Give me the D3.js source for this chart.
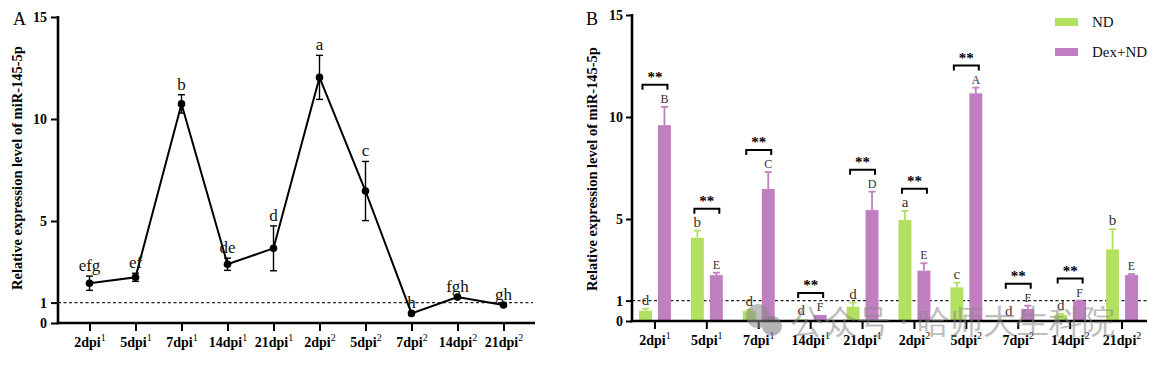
<!DOCTYPE html>
<html><head><meta charset="utf-8">
<script src="https://cdn.jsdelivr.net/npm/d3@7/dist/d3.min.js"></script>
<style>
body{margin:0;background:#fff;}
svg{display:block;}
text{font-family:"Liberation Serif","Times New Roman",serif;}
</style></head>
<body>
<svg id="c" width="1166" height="367"></svg>
<script>
// ---------- data ----------
const categories = ["2dpi|1","5dpi|1","7dpi|1","14dpi|1","21dpi|1","2dpi|2","5dpi|2","7dpi|2","14dpi|2","21dpi|2"];
const yTicks = [0,1,5,10,15];

// Panel A
const aValues = [1.95, 2.24, 10.74, 2.88, 3.66, 12.04, 6.47, 0.47, 1.27, 0.88];
const aErrors = [0.35, 0.2, 0.45, 0.3, 1.1, 1.08, 1.45, 0, 0, 0];
const aLetters = ["efg","ef","b","de","d","a","c","h","fgh","gh"];

// Panel B
const seriesNames = ["ND","Dex+ND"];
const ndValues = [0.5, 4.08, 0.49, 0.08, 0.7, 4.95, 1.65, 0.05, 0.3, 3.51];
const ndErrors = [0.1, 0.35, 0.06, 0.0, 0.2, 0.45, 0.23, 0.0, 0.05, 0.99];
const ndLetters = ["d","b","d","d","d","a","c","d","d","b"];
const dexValues = [9.6, 2.25, 6.47, 0.3, 5.44, 2.47, 11.16, 0.59, 0.98, 2.25];
const dexErrors = [0.9, 0.12, 0.83, 0.0, 0.9, 0.36, 0.28, 0.16, 0.02, 0.05];
const dexLetters = ["B","E","C","F","D","E","A","F","F","E"];
const significant = [true,true,true,true,true,true,true,true,true,false];

const GREEN = "#b4e061", PURPLE = "#c07fc1";
const svg = d3.select("#c");

function xLabel(sel){
  sel.each(function(d){
    const t = d3.select(this); t.text(null);
    const [base, sup] = d.split("|");
    t.append("tspan").text(base);
    t.append("tspan").attr("dy",-6).attr("font-size",10).attr("font-weight","normal").text(sup);
  });
}

function yAxisTitle(x, y){
  svg.append("text").attr("transform",`translate(${x},${y}) rotate(-90)`)
    .attr("text-anchor","middle").attr("font-weight","bold").attr("font-size",14.5)
    .text("Relative expression level of miR-145-5p");
}

// ================= Panel A =================
{
  const x0 = 58, x1 = 535;
  const x = d3.scalePoint().domain(categories).range([x0, x1]).padding(0.685);
  const y = d3.scaleLinear().domain([0,15]).range([323, 17]);
  const g = svg.append("g");

  const ya = g.append("g").attr("transform",`translate(${x0},0)`)
    .call(d3.axisLeft(y).tickValues(yTicks).tickSize(7).tickPadding(4));
  const xa = g.append("g").attr("transform",`translate(0,${y(0)})`)
    .call(d3.axisBottom(x).tickSize(8).tickPadding(6));
  [ya, xa].forEach(a=>{
    a.select(".domain").remove();
    a.selectAll("line").attr("stroke","#000").attr("stroke-width",2);
    a.selectAll("text").attr("font-family","Liberation Serif").attr("font-weight","bold").attr("font-size",14).attr("fill","#000");
  });
  xa.selectAll("text").call(xLabel);
  g.append("line").attr("x1",x0).attr("x2",x0).attr("y1",y(15)-1).attr("y2",y(0)+1.2).attr("stroke","#000").attr("stroke-width",2.6);
  g.append("line").attr("x1",x0-1.3).attr("x2",x1).attr("y1",y(0)).attr("y2",y(0)).attr("stroke","#000").attr("stroke-width",2.6);

  g.append("line").attr("x1",x0).attr("x2",533).attr("y1",y(1)).attr("y2",y(1))
    .attr("stroke","#222").attr("stroke-width",1.1).attr("stroke-dasharray","3,2.5");

  const line = d3.line().x((d,i)=>x(categories[i])).y(d=>y(d));
  g.append("path").datum(aValues).attr("d",line).attr("fill","none").attr("stroke","#000").attr("stroke-width",2);

  aValues.forEach((v,i)=>{
    const cx = x(categories[i]), e = aErrors[i];
    if(e>0){
      g.append("line").attr("x1",cx).attr("x2",cx).attr("y1",y(v+e)).attr("y2",y(v-e)).attr("stroke","#000").attr("stroke-width",1.4);
      [v+e, v-e].forEach(t=>g.append("line").attr("x1",cx-3.5).attr("x2",cx+3.5).attr("y1",y(t)).attr("y2",y(t)).attr("stroke","#000").attr("stroke-width",1.4));
    }
    g.append("circle").attr("cx",cx).attr("cy",y(v)).attr("r",3.8).attr("fill","#000");
    g.append("text").attr("x",cx).attr("y",y(v+e)-5).attr("text-anchor","middle")
      .attr("font-size",17).attr("fill","#111").text(aLetters[i]);
  });

  svg.append("text").attr("x",13).attr("y",25).attr("font-size",18).text("A");
  yAxisTitle(22, 168);
}

// ================= Panel B =================
{
  const x0 = 632, x1 = 1147;
  const xg = d3.scaleBand().domain(categories).range([629, 1148]).paddingInner(0.385).paddingOuter(0.1925);
  const xs = d3.scaleBand().domain(seriesNames).range([0, xg.bandwidth()]).paddingInner(0.316);
  const y = d3.scaleLinear().domain([0,15]).range([321, 15]);
  const g = svg.append("g");

  const ya = g.append("g").attr("transform",`translate(${x0},0)`)
    .call(d3.axisLeft(y).tickValues(yTicks).tickSize(6).tickPadding(3));
  const xa = g.append("g").attr("transform",`translate(0,${y(0)})`)
    .call(d3.axisBottom(xg).tickSize(8).tickPadding(6));
  [ya, xa].forEach(a=>{
    a.select(".domain").remove();
    a.selectAll("line").attr("stroke","#000").attr("stroke-width",2);
    a.selectAll("text").attr("font-family","Liberation Serif").attr("font-weight","bold").attr("font-size",14).attr("fill","#000");
  });
  xa.selectAll("text").call(xLabel);

  g.append("line").attr("x1",x0).attr("x2",x1).attr("y1",y(1)).attr("y2",y(1))
    .attr("stroke","#222").attr("stroke-width",1.1).attr("stroke-dasharray","3,2.5");

  const series = [
    {name:"ND", values:ndValues, errors:ndErrors, letters:ndLetters, color:GREEN, fs:15},
    {name:"Dex+ND", values:dexValues, errors:dexErrors, letters:dexLetters, color:PURPLE, fs:12}
  ];
  series.forEach(s=>{
    s.values.forEach((v,i)=>{
      const bx = xg(categories[i]) + xs(s.name), bw = xs.bandwidth(), cx = bx + bw/2;
      g.append("rect").attr("x",bx).attr("y",y(v)).attr("width",bw).attr("height",y(0)-y(v)).attr("fill",s.color);
      const e = s.errors[i];
      if(e>0){
        g.append("line").attr("x1",cx).attr("x2",cx).attr("y1",y(v)).attr("y2",y(v+e)).attr("stroke",s.color).attr("stroke-width",1.8);
        g.append("line").attr("x1",cx-3.5).attr("x2",cx+3.5).attr("y1",y(v+e)).attr("y2",y(v+e)).attr("stroke",s.color).attr("stroke-width",1.8);
      }
      g.append("text").attr("x",cx).attr("y",y(v+e)-4).attr("text-anchor","middle")
        .attr("font-size",s.fs).attr("fill","#333").text(s.letters[i]);
    });
  });

  significant.forEach((sig,i)=>{
    if(!sig) return;
    const top = Math.max(ndValues[i]+ndErrors[i], dexValues[i]+dexErrors[i]);
    const by = y(top) - 22;
    const xa1 = xg(categories[i]) + xs("ND") + xs.bandwidth()/2 - 3;
    const xa2 = xg(categories[i]) + xs("Dex+ND") + xs.bandwidth()/2 + 3;
    g.append("path").attr("d",`M${xa1},${by+5}V${by}H${xa2}V${by+5}`).attr("fill","none").attr("stroke","#000").attr("stroke-width",2);
    g.append("text").attr("x",(xa1+xa2)/2).attr("y",by-3).attr("text-anchor","middle")
      .attr("font-size",15).attr("font-weight","bold").text("**");
  });

  g.append("line").attr("x1",x0).attr("x2",x0).attr("y1",y(15)-1).attr("y2",y(0)+1.2).attr("stroke","#000").attr("stroke-width",2.6);
  g.append("line").attr("x1",x0-1.3).attr("x2",x1).attr("y1",y(0)).attr("y2",y(0)).attr("stroke","#000").attr("stroke-width",2.6);

  // legend
  const lg = svg.append("g");
  series.forEach((s,k)=>{
    lg.append("rect").attr("x",1055).attr("y",18+k*30).attr("width",23).attr("height",8).attr("fill",s.color);
    lg.append("text").attr("x",1092).attr("y",27+k*30).attr("font-size",15).attr("fill","#111").text(s.name);
  });

  svg.append("text").attr("x",586).attr("y",25).attr("font-size",18).text("B");
  yAxisTitle(597, 169);
}

// watermark
{
  const wm = svg.append("g").attr("opacity",0.55);
  wm.append("circle").attr("cx",758).attr("cy",316).attr("r",12).attr("fill","#888");
  wm.append("circle").attr("cx",772).attr("cy",326).attr("r",10).attr("fill","#777");
  wm.append("text").attr("x",791).attr("y",333).attr("font-family","Noto Sans CJK SC").attr("font-weight",300)
    .attr("font-size",33).attr("fill","#888").text("公众号 · 哈师大生科院");
}
</script>
</body></html>
